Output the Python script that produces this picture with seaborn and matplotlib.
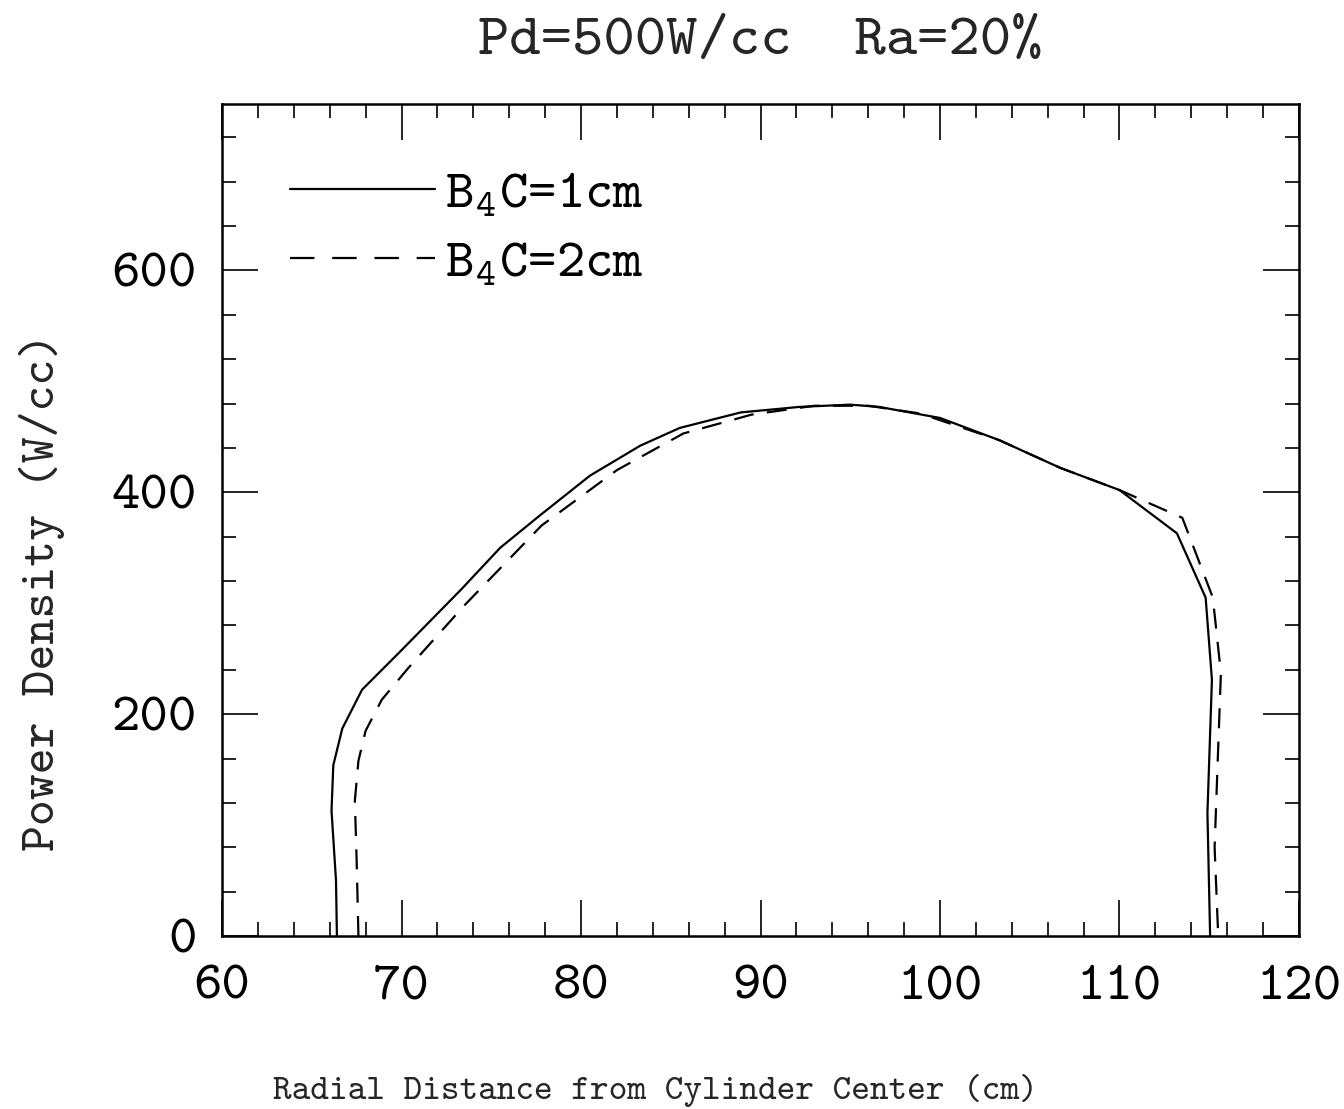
import matplotlib
matplotlib.use('Agg')
import matplotlib.pyplot as plt
import seaborn as sns
import pandas as pd
from matplotlib.ticker import MultipleLocator

# ---- data ----
solid_x = [66.4, 66.35, 66.1, 66.2, 66.7, 67.8, 69.9, 73.3, 75.5, 77.7, 80.5, 83.3,
           85.5, 88.9, 92.2, 95.0, 96.6, 100.0, 103.3, 106.7, 110.0, 113.2, 114.8,
           115.15, 114.9, 115.05]
solid_y = [0, 50, 113, 154, 187, 222, 256, 312, 350, 379, 415, 442,
           458, 472, 477, 479, 477, 467, 447, 422, 402, 363, 305,
           231, 111, 0]
dashed_x = [67.6, 67.5, 67.4, 67.6, 68.0, 68.9, 70.4, 73.5, 77.8, 82.0, 85.7, 89.5,
            93.0, 96.0, 98.9, 103.3, 106.7, 110.0, 113.5, 115.2, 115.65, 115.5,
            115.3, 115.5]
dashed_y = [0, 68, 122, 158, 185, 213, 242, 298, 370, 420, 453, 470,
            478, 478, 471, 447, 422, 402, 377, 305, 237, 170,
            80, 0]
labels = [r'B$_4$C=1cm', r'B$_4$C=2cm']
title = 'Pd=500W/cc  Ra=20%'
xlabel = 'Radial Distance from Cylinder Center (cm)'
ylabel = 'Power Density (W/cc)'

sns.set_theme(style='ticks')
plt.rcParams['font.family'] = ['cmtt10', 'DejaVu Sans']
plt.rcParams['mathtext.fontset'] = 'custom'
plt.rcParams['mathtext.rm'] = 'cmtt10'
plt.rcParams['mathtext.it'] = 'cmtt10'
plt.rcParams['axes.unicode_minus'] = False
plt.rcParams['axes.formatter.use_mathtext'] = False

fig = plt.figure(figsize=(13.44, 11.09), dpi=100)
fig.patch.set_facecolor('white')
ax = fig.add_axes([0.1652, 0.156, 0.8013, 0.7502])
ax.set_facecolor('white')

sns.lineplot(x=solid_x, y=solid_y, sort=False, estimator=None, color='black',
             linewidth=1.6, label=labels[0], ax=ax)
sns.lineplot(x=dashed_x, y=dashed_y, sort=False, estimator=None, color='black',
             linewidth=1.6, linestyle=(0, (9, 6)), label=labels[1], ax=ax)

ax.set_xlim(60, 120)
ax.set_ylim(0, 750)
ax.xaxis.set_major_locator(MultipleLocator(10))
ax.xaxis.set_minor_locator(MultipleLocator(2))
ax.yaxis.set_major_locator(MultipleLocator(200))
ax.yaxis.set_minor_locator(MultipleLocator(40))

ax.tick_params(which='both', direction='in', top=True, right=True, colors='black',
               width=1.2)
ax.tick_params(which='major', length=26, labelsize=39)
ax.tick_params(axis='x', which='major', pad=21)
ax.tick_params(axis='y', which='major', pad=18)
ax.tick_params(which='minor', length=10)
for sp in ax.spines.values():
    sp.set_linewidth(1.8)
    sp.set_color('black')

ax.set_title(title, fontsize=43, pad=36)
ax.set_xlabel(xlabel, fontsize=25.6)
ax.xaxis.set_label_coords(0.402, -0.166)
ax.set_ylabel(ylabel, fontsize=35.5)
ax.yaxis.set_label_coords(-0.146, 0.4135)

leg = ax.legend(loc='upper left', bbox_to_anchor=(0.063, 0.921), frameon=False,
                fontsize=39, handlelength=2.68, handletextpad=0.19,
                labelspacing=0.35, borderpad=0, borderaxespad=0)
for t in leg.get_texts():
    t.set_color('black')
leg.get_lines()[1].set_linestyle((0, (11, 8)))

fig.savefig('out.png', dpi=100, facecolor='white')
